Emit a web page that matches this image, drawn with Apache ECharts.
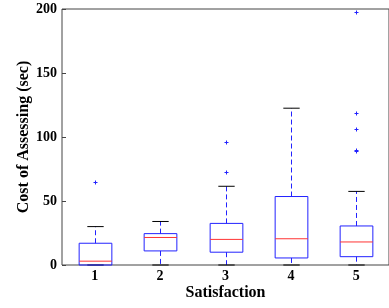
<!DOCTYPE html>
<html>
<head>
<meta charset="utf-8">
<script src="https://cdn.jsdelivr.net/npm/echarts@6/dist/echarts.min.js"></script>
<style>
  html, body { margin: 0; padding: 0; background: #fff; }
  #chart { width: 389px; height: 308px; }
</style>
</head>
<body>
<div id="chart"></div>
<script>
// box statistics per satisfaction level
const categories = ['1', '2', '3', '4', '5'];
const whiskerLow = [0, 0, 0, 0, 0];
const q1 = [0, 11, 10, 5.5, 6.5];
const medians = [3, 21.5, 20, 20.5, 18];
const q3 = [17, 24.5, 32.5, 53.5, 30.5];
const whiskerHigh = [30, 34, 61.5, 122.5, 57.5];
// outliers: [category index, value]
const outliers = [[0, 65], [2, 73], [2, 96], [4, 89], [4, 90], [4, 106], [4, 118.5], [4, 197.5]];
const yTicks = [0, 50, 100, 150, 200];

const boxData = categories.map((c, i) => [i, whiskerLow[i], q1[i], medians[i], q3[i], whiskerHigh[i]]);

const font = 'Liberation Serif';
const blue = '#2222ff';

function renderBox(params, api) {
  const i = api.value(0);
  const band = api.size([1, 0])[0];
  const half = band * 0.25;
  const capHalf = band * 0.125;
  const low = api.coord([i, api.value(1)]);
  const b1 = api.coord([i, api.value(2)]);
  const med = api.coord([i, api.value(3)]);
  const b3 = api.coord([i, api.value(4)]);
  const high = api.coord([i, api.value(5)]);
  const cx = Math.round(low[0]) + 0.5;
  return {
    type: 'group',
    children: [
      { type: 'line', shape: { x1: cx, y1: b3[1], x2: cx, y2: high[1] },
        style: { stroke: blue, lineWidth: 1, lineDash: [5, 3] } },
      { type: 'line', shape: { x1: cx, y1: b1[1], x2: cx, y2: low[1] },
        style: { stroke: blue, lineWidth: 1, lineDash: [5, 3] } },
      { type: 'line', shape: { x1: cx - capHalf, y1: high[1], x2: cx + capHalf, y2: high[1] },
        style: { stroke: '#000', lineWidth: 1 } },
      { type: 'line', shape: { x1: cx - capHalf, y1: low[1], x2: cx + capHalf, y2: low[1] },
        style: { stroke: '#000', lineWidth: 1 } },
      { type: 'rect', shape: { x: cx - half, y: b3[1], width: half * 2, height: b1[1] - b3[1] },
        style: { fill: 'none', stroke: blue, lineWidth: 1 } },
      { type: 'line', shape: { x1: cx - half, y1: med[1], x2: cx + half, y2: med[1] },
        style: { stroke: '#ff3333', lineWidth: 1 } }
    ]
  };
}

function renderFlier(params, api) {
  const p = api.coord([api.value(0), api.value(1)]);
  const x = Math.round(p[0]) + 0.5;
  const y = Math.round(p[1]) + 0.5;
  const s = 2;
  return {
    type: 'group',
    children: [
      { type: 'line', shape: { x1: x - s, y1: y, x2: x + s, y2: y }, style: { stroke: blue, lineWidth: 1 } },
      { type: 'line', shape: { x1: x, y1: y - s, x2: x, y2: y + s }, style: { stroke: blue, lineWidth: 1 } }
    ]
  };
}

const chart = echarts.init(document.getElementById('chart'));
chart.setOption({
  animation: false,
  grid: { left: 62, top: 9, right: -4, bottom: 43, show: true, borderColor: '#444', borderWidth: 1, backgroundColor: 'transparent' },
  xAxis: [
    {
      type: 'category',
      data: categories,
      name: 'Satisfaction',
      nameLocation: 'middle',
      nameGap: 20,
      nameMoveOverlap: false,
      nameTextStyle: { fontFamily: font, fontWeight: 'bold', fontSize: 16, color: '#000' },
      axisLine: { show: false },
      axisTick: { inside: true, alignWithLabel: true, length: 4, lineStyle: { color: '#444' } },
      axisLabel: { fontFamily: font, fontWeight: 'bold', fontSize: 14, color: '#000', margin: 4 },
      splitLine: { show: false }
    },
    {
      type: 'category',
      data: categories,
      position: 'top',
      axisLine: { show: false },
      axisTick: { inside: true, alignWithLabel: true, length: 4, lineStyle: { color: '#444' } },
      axisLabel: { show: false },
      splitLine: { show: false }
    }
  ],
  yAxis: {
    type: 'value',
    min: 0,
    max: 200,
    interval: 50,
    name: 'Cost of Assessing (sec)',
    nameLocation: 'middle',
    nameGap: 30,
    nameMoveOverlap: false,
    nameTextStyle: { fontFamily: font, fontWeight: 'bold', fontSize: 16, color: '#000' },
    axisLine: { show: false },
    axisTick: { show: true, inside: true, length: 4, lineStyle: { color: '#444' } },
    axisLabel: { fontFamily: font, fontWeight: 'bold', fontSize: 14, color: '#000', margin: 5,
      formatter: v => yTicks.includes(v) ? String(v) : '' },
    splitLine: { show: false }
  },
  series: [
    { type: 'custom', renderItem: renderBox, data: boxData, encode: { x: 0, y: [1, 2, 3, 4, 5] }, clip: false },
    { type: 'custom', renderItem: renderFlier, data: outliers, encode: { x: 0, y: 1 }, clip: false }
  ]
});
</script>
</body>
</html>
